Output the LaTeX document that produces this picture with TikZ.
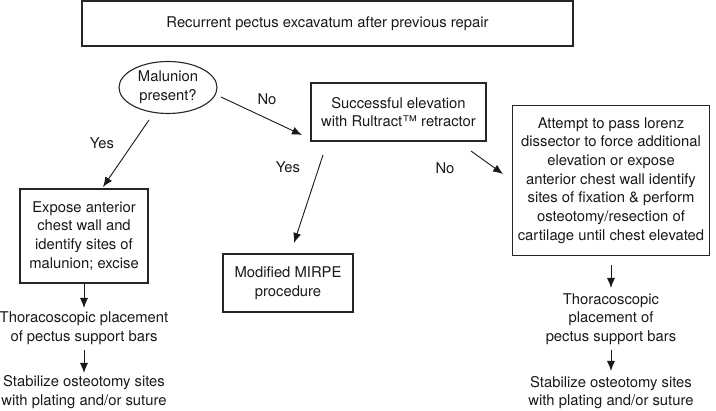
\documentclass[tikz,border=0pt]{standalone}
\usepackage{fontspec}
\setmainfont{TeX Gyre Heros}
\usetikzlibrary{shapes.geometric,arrows.meta}
\tikzset{
  txt/.style={font=\fontsize{14.8}{18.7}\selectfont, align=center, inner sep=0pt, text=black!90},
  boxnode/.style={txt, draw=black!85, line width=1.1pt, minimum width=#1},
  ellnode/.style={txt, draw=black!85, line width=1.1pt, ellipse, minimum width=98pt, minimum height=52pt},
  arr/.style={draw=black!90, line width=0.9pt, -{Latex[length=10pt,width=8pt]}},
  lab/.style={txt}
}
\begin{document}
\begin{tikzpicture}[x=1pt,y=-1pt]
\useasboundingbox (0,0) rectangle (716,411);
% top box
\node[boxnode=491pt, minimum height=45pt] (top) at (327.5,23.5) {Recurrent pectus excavatum after previous repair};
% ellipse
\node[ellnode] (mal) at (168,87.5) {Malunion\\present?};
% box 2
\node[boxnode=175pt, minimum height=58pt] (succ) at (398.5,112) {Successful elevation\\with Rultract\texttrademark\ retractor};
% left box
\node[boxnode=128pt, minimum height=94pt] (expose) at (84,236) {Expose anterior\\chest wall and\\identify sites of\\malunion; excise};
% MIRPE box
\node[boxnode=130pt, minimum height=58pt] (mirpe) at (288,283) {Modified MIRPE\\procedure};
% right box
\node[boxnode=197pt, minimum height=150pt] (attempt) at (611,180.5) {Attempt to pass lorenz\\dissector to force additional\\elevation or expose\\anterior chest wall identify\\sites of fixation \& perform\\osteotomy/resection of\\cartilage until chest elevated};
% left column texts
\node[txt] (lthor) at (84,328.5) {Thoracoscopic placement\\of pectus support bars};
\node[txt] (lstab) at (84,392) {Stabilize osteotomy sites\\with plating and/or suture};
% right column texts
\node[txt] (rthor) at (611,319) {Thoracoscopic\\placement of\\pectus support bars};
\node[txt] (rstab) at (611,392.5) {Stabilize osteotomy sites\\with plating and/or suture};
% labels
\node[lab] (no1) at (267,99) {No};
\node[lab] (yes1) at (102,143) {Yes};
\node[lab] (yes2) at (288,167) {Yes};
\node[lab] (no2) at (445,168) {No};
% connector endpoints
\coordinate (a1s) at (221,97);  \coordinate (a1e) at (302,135);
\coordinate (a2s) at (149,120); \coordinate (a2e) at (103,187);
\coordinate (a3s) at (323,155); \coordinate (a3e) at (294,243);
\coordinate (a4s) at (471,151); \coordinate (a4e) at (503,174);
\coordinate (l1e) at (84,308);
\coordinate (l2s) at (84,350);  \coordinate (l2e) at (84,373);
\coordinate (r1s) at (611,265); \coordinate (r1e) at (611,288);
\coordinate (r2s) at (611,350); \coordinate (r2e) at (611,371);
% connectors
\draw[arr] (a1s) -- (a1e);
\draw[arr] (a2s) -- (a2e);
\draw[arr] (a3s) -- (a3e);
\draw[arr] (a4s) -- (a4e);
\draw[arr] (expose.south) -- (l1e);
\draw[arr] (l2s) -- (l2e);
\draw[arr] (r1s) -- (r1e);
\draw[arr] (r2s) -- (r2e);
\end{tikzpicture}
\end{document}
